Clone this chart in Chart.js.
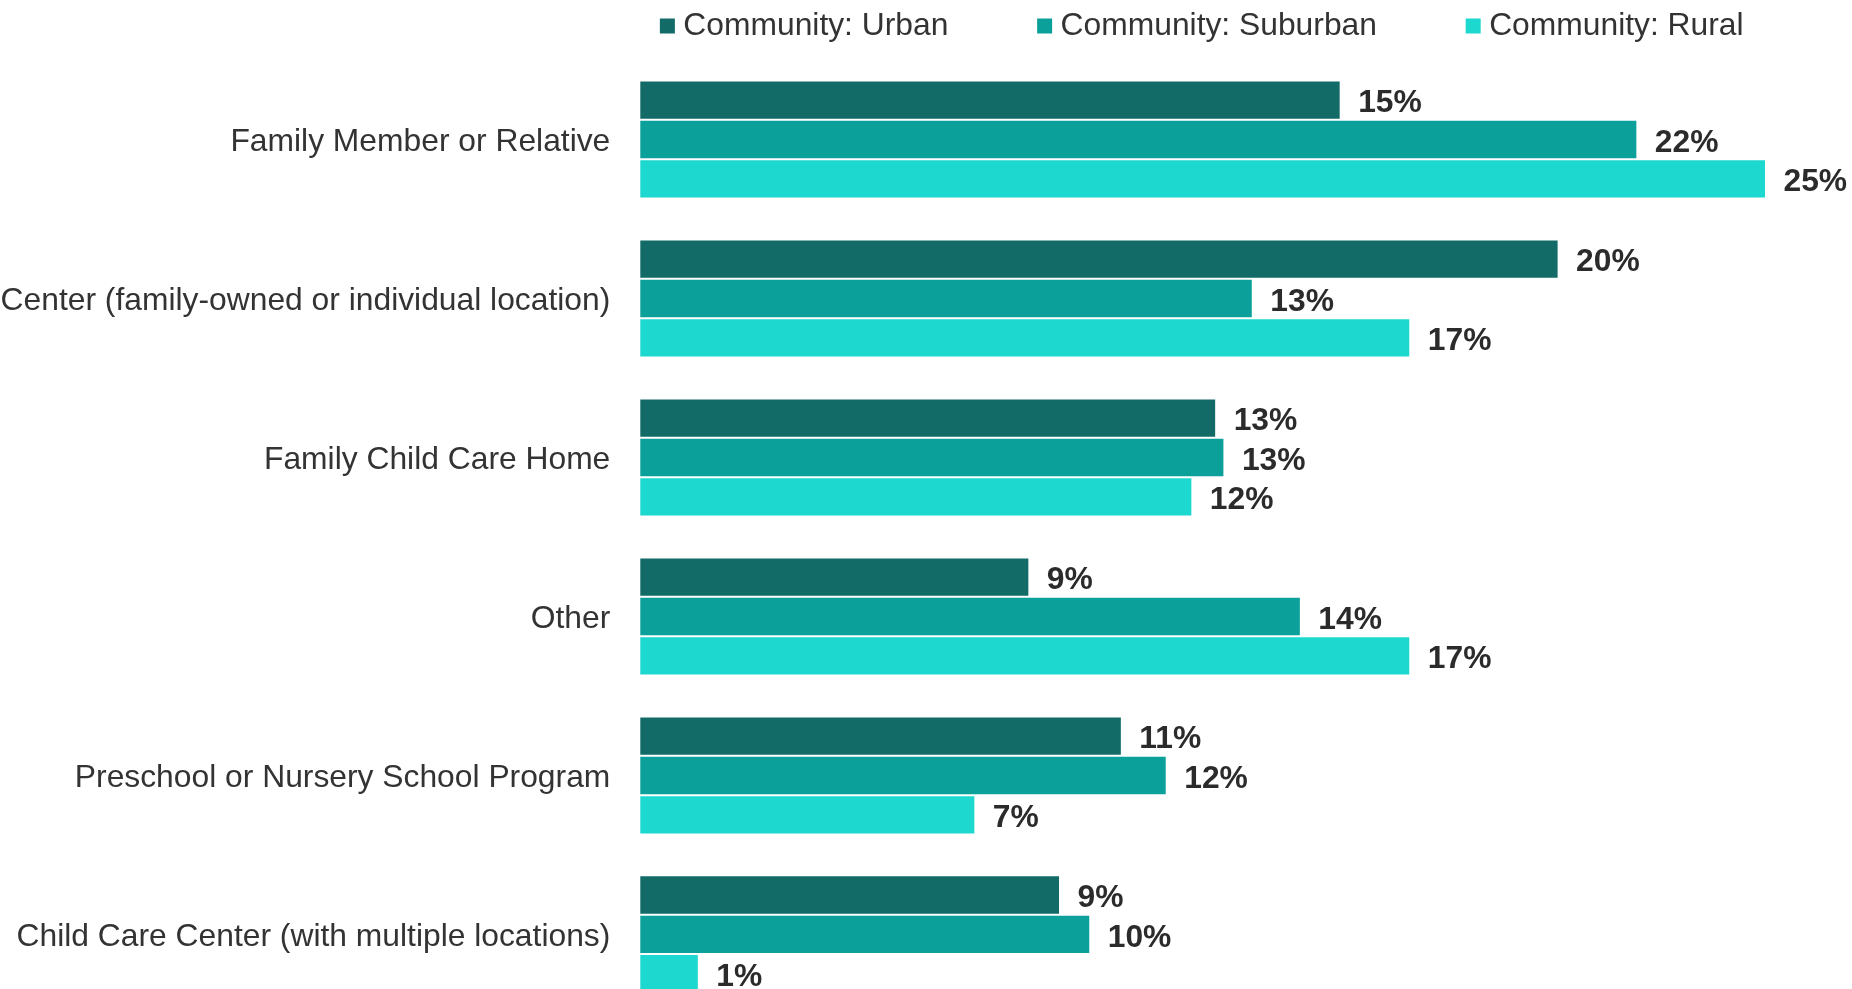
<!DOCTYPE html>
<html>
<head>
<meta charset="utf-8">
<title>Child care arrangement by community type</title>
<script src="https://cdn.jsdelivr.net/npm/chart.js@4.4.1/dist/chart.umd.min.js"></script>
<style>
    html, body { margin: 0; padding: 0; background: #ffffff; overflow: hidden; }
    #wrap { width: 1852px; height: 989px; overflow: hidden; }
</style>
</head>
<body>
<div id="wrap">
    <canvas id="careChart" width="1852" height="1062"></canvas>
</div>
<script>
// categories, top to bottom
const categories = [
    'Family Member or Relative',
    'Child Care Center (family-owned or individual location)',
    'Family Child Care Home',
    'Other',
    'Preschool or Nursery School Program',
    'Child Care Center (with multiple locations)'
];

// share of respondents in % (labels show them rounded)
const urbanValues = [15.32, 20.08, 12.60, 8.52, 10.54, 9.19];
const suburbanValues = [21.80, 13.40, 12.78, 14.45, 11.52, 9.85];
const ruralValues = [24.61, 16.84, 12.08, 16.84, 7.34, 1.30];

const seriesNames = ['Community: Urban', 'Community: Suburban', 'Community: Rural'];
const seriesColors = ['#136b67', '#0ba09a', '#1cd8cf'];

const fontFamily = '"Liberation Sans", Arial, Helvetica, sans-serif';
const textColor = '#333333';

// draws the "15%" style labels at the end of every bar
const barValueLabels = {
    id: 'barValueLabels',
    afterDatasetsDraw(chart) {
        const ctx = chart.ctx;
        ctx.save();
        ctx.font = 'bold 31.8px ' + fontFamily;
        ctx.fillStyle = '#2b2b2b';
        ctx.textAlign = 'left';
        ctx.textBaseline = 'middle';
        chart.data.datasets.forEach(function(ds, i) {
            chart.getDatasetMeta(i).data.forEach(function(bar, j) {
                ctx.fillText(Math.round(ds.data[j]) + '%', bar.x + 17.5, bar.y + 3.5);
            });
        });
        ctx.restore();
    }
};

// keep the legend on one row over the plot, with a bit more room under it
const legendGap = {
    id: 'legendGap',
    afterInit(chart) {
        const legend = chart.legend;
        const fit = legend.fit;
        const draw = legend.draw;
        legend.fit = function() {
            const mw = this.maxWidth;
            this.maxWidth = mw + 1000;
            fit.call(this);
            this.maxWidth = mw;
            this.width = mw;
            this.height += 8;
        };
        legend.draw = function() {
            const l = this.left, r = this.right;
            this.left = l - 497.2;
            this.right = r + 502.8;
            draw.call(this);
            this.left = l;
            this.right = r;
        };
    }
};

const ctx = document.getElementById('careChart').getContext('2d');
const chart = new Chart(ctx, {
    type: 'bar',
    data: {
        labels: categories,
        datasets: [
            { label: seriesNames[0], data: urbanValues, backgroundColor: seriesColors[0] },
            { label: seriesNames[1], data: suburbanValues, backgroundColor: seriesColors[1] },
            { label: seriesNames[2], data: ruralValues, backgroundColor: seriesColors[2] }
        ]
    },
    options: {
        indexAxis: 'y',
        responsive: false,
        animation: false,
        categoryPercentage: 0.743,
        barPercentage: 1.0,
        datasets: {
            bar: {
                borderWidth: 1,
                borderColor: 'rgba(255,255,255,0.35)',
                borderSkipped: false
            }
        },
        layout: {
            padding: { top: -86.0, right: 86, bottom: 0, left: 0 }
        },
        scales: {
            x: {
                display: false,
                min: 0,
                max: Math.max(...urbanValues, ...suburbanValues, ...ruralValues)
            },
            y: {
                grid: { display: false, drawTicks: false },
                border: { display: false },
                ticks: {
                    padding: 29,
                    labelOffset: 3,
                    color: textColor,
                    font: { family: fontFamily, size: 31.8 }
                },
                afterFit(scale) {
                    scale.width = 639.3;
                }
            }
        },
        plugins: {
            legend: {
                position: 'top',
                fullSize: false,
                labels: {
                    boxWidth: 0.1,
                    boxHeight: 0.1,
                    padding: 96.2,
                    color: textColor,
                    font: { family: fontFamily, size: 31.8 },
                    generateLabels(chart) {
                        return chart.data.datasets.map(function(ds, i) {
                            return {
                                text: ds.label,
                                fillStyle: ds.backgroundColor,
                                strokeStyle: ds.backgroundColor,
                                lineWidth: 14.9,
                                lineJoin: 'miter',
                                fontColor: textColor,
                                hidden: false,
                                datasetIndex: i
                            };
                        });
                    }
                }
            },
            tooltip: { enabled: false }
        }
    },
    plugins: [barValueLabels, legendGap]
});
</script>
</body>
</html>
